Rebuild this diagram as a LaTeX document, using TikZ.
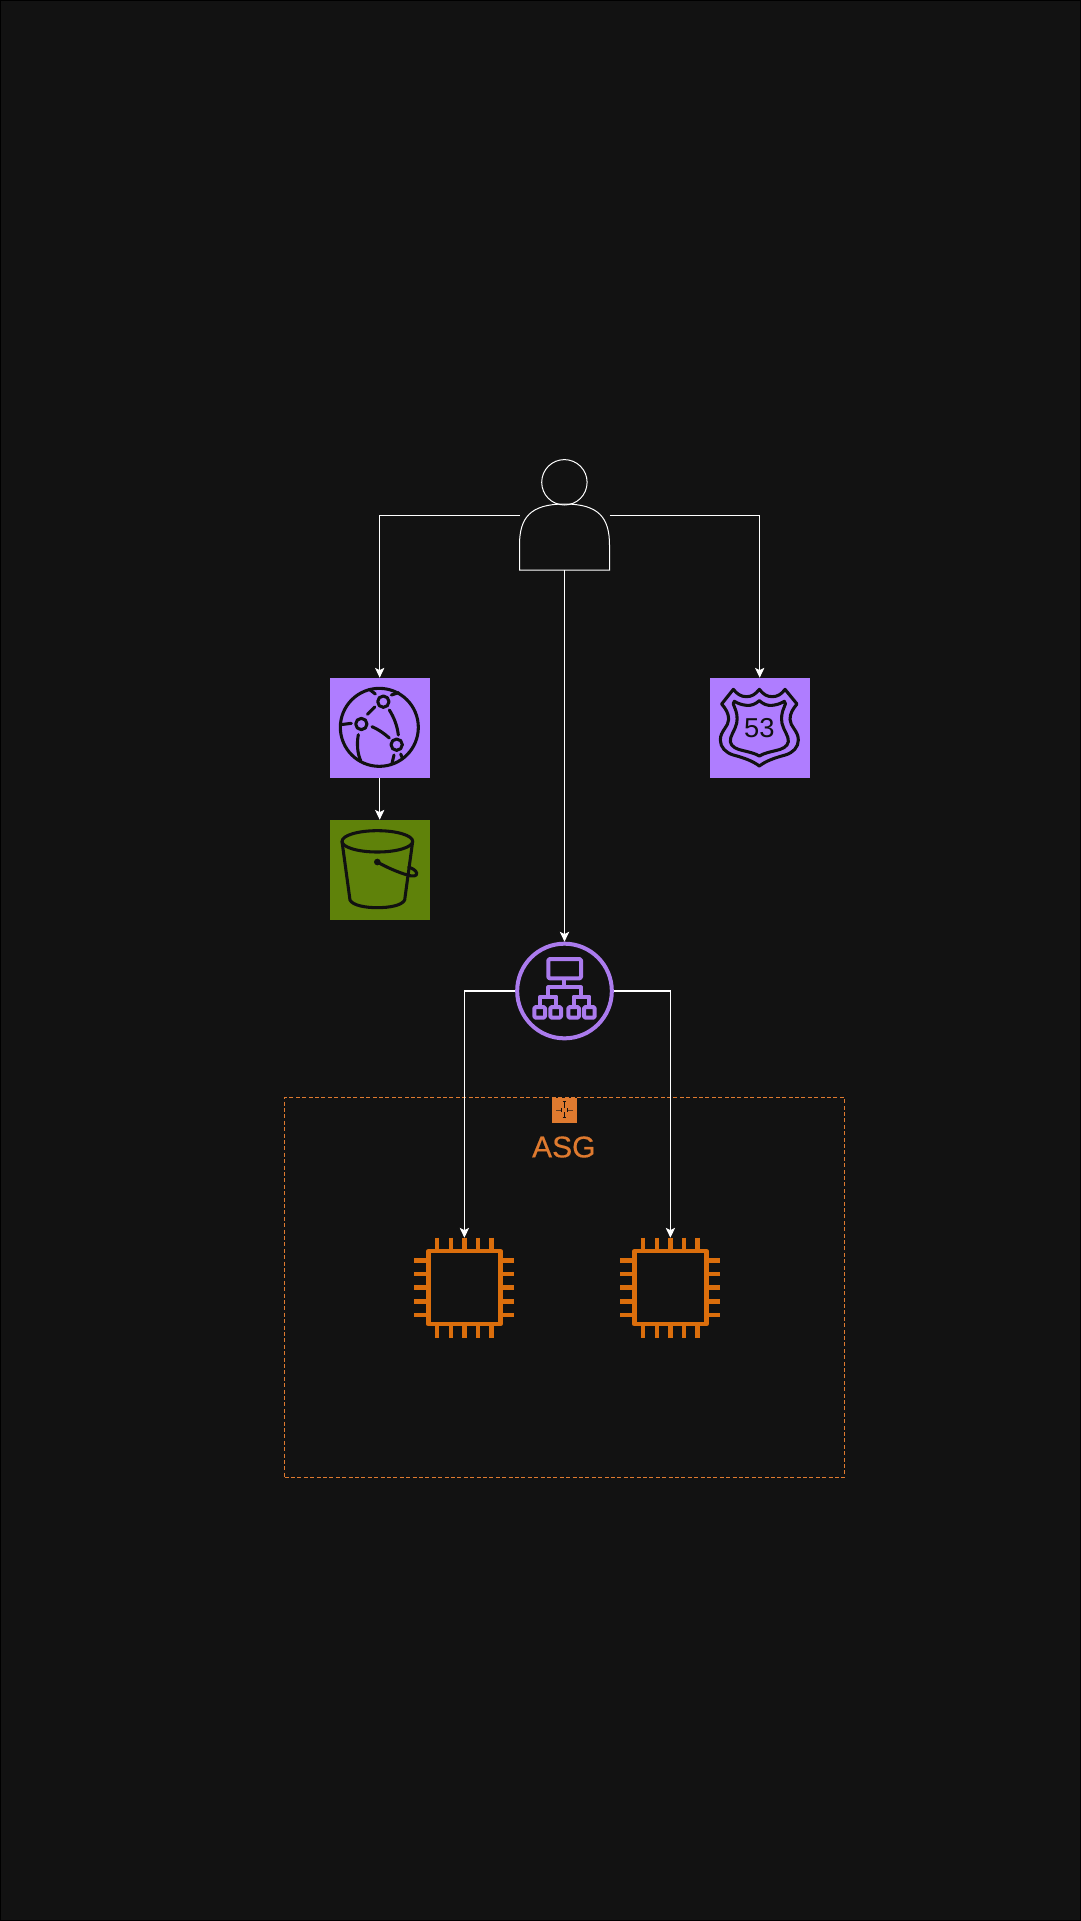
\documentclass[tikz,border=0pt]{standalone}
\usepackage{fontspec}
\setmainfont{Liberation Sans}
\newfontfamily\asgfont[FakeBold=0.35]{Liberation Sans}
\usetikzlibrary{arrows.meta}
\definecolor{bgc}{HTML}{121212}
\definecolor{purp}{HTML}{AF7DFF}
\definecolor{albp}{HTML}{AB7BEE}
\definecolor{s3g}{HTML}{5F820A}
\definecolor{ec2o}{HTML}{DB6E0C}
\definecolor{asgo}{HTML}{DF7A2F}
\definecolor{ink}{HTML}{111111}
\tikzset{
  conn/.style={draw=white,line width=0.8pt,-{Stealth[length=7.4pt,width=7pt,inset=1.7pt]}},
  iconbox/.style={rectangle,inner sep=0pt,outer sep=0pt,minimum size=75pt},
  chipnode/.style={rectangle,inner sep=0pt,outer sep=0pt,minimum size=75pt},
  ink line/.style={draw=ink,line width=2.3pt,line cap=round,line join=round},
  thinline/.style={draw=white,line width=0.75pt},
  albline/.style={draw=albp,line width=3pt,line join=round},
  pin/.style={draw=ec2o,line width=3.4pt},
  crop/.style={x=0.25pt,y=-0.25pt},
}
\newcommand{\chipicon}[1]{%
  \begin{scope}[shift={(#1)},x=0.75pt,y=-0.75pt]
    \draw[draw=ec2o,line width=3.4pt,line join=round] (-36,-36.5) rectangle (36,36.5);
    \foreach \d in {-27.2,-13.6,0,13.6,27.2}{
      \draw[pin] (\d,-50) -- (\d,-38);
      \draw[pin] (\d,38) -- (\d,50);
      \draw[pin] (-50,\d) -- (-38,\d);
      \draw[pin] (38,\d) -- (50,\d);
    }
  \end{scope}}
\begin{document}
\begin{tikzpicture}[x=0.75pt,y=-0.75pt]
\useasboundingbox (0,0) rectangle (1081,1921);
\fill[bgc] (0,0) rectangle (1081,1921);
\draw[black,line width=0.75pt] (0.5,0.5) rectangle (1080.5,1920.5);

% group
\node[rectangle,draw=asgo,line width=0.75pt,dash pattern=on 3pt off 1.8pt,inner sep=0pt,outer sep=0pt,minimum width=420pt,minimum height=285pt] (asg) at (564.5,1287.5) {};
\node[rectangle,fill=asgo,inner sep=0pt,outer sep=0pt,minimum size=18.75pt] (asgicon) at (564.5,1110) {};
\node[text=asgo,inner sep=0pt,font=\asgfont\fontsize{22.5pt}{24pt}\selectfont] (asglabel) at (563.8,1147) {ASG};
\begin{scope}[shift={(510,1085)},crop,draw=ink,line width=0.55pt]
  \draw[draw=ink] (163,48) -- (163,68);
  \draw[draw=ink] (158,50) -- (168,50);
  \draw[draw=ink] (163,82) -- (163,100);
  \draw[draw=ink] (158,98) -- (168,98);
  \draw[draw=ink!60!asgo] (138,75) -- (155,75);
  \draw[draw=ink] (154,69) -- (154,81);
  \draw[draw=ink!60!asgo] (172,75) -- (190,75);
  \draw[draw=ink] (172,69) -- (172,81);
\end{scope}

% user
\node[rectangle,inner sep=0pt,outer sep=0pt,minimum width=67.5pt,minimum height=82pt] (user) at (564.5,515.5) {};
\draw[thinline] (564.4,482.3) circle (22.7);
\draw[thinline] (519.5,570) -- (519.5,545) .. controls (519.5,518) and (530,504) .. (564.5,504)
  .. controls (599,504) and (609.5,518) .. (609.5,545) -- (609.5,570) -- cycle;

% cloudfront
\node[iconbox,fill=purp] (cf) at (379.7,727.7) {};
\begin{scope}[shift={(310,660)},crop]
  \draw[ink line] (208,202) circle (117);
  \draw[ink line] (220,125) circle (17);
  \draw[ink line] (154,192) circle (17);
  \draw[ink line] (260,254) circle (17);
  \draw[ink line] (172,163) -- (194,141);
  \draw[ink line] (186,200) .. controls (205,208) and (222,220) .. (238,234);
  \draw[ink line] (238,150) .. controls (252,172) and (262,198) .. (265,225);
  \draw[ink line] (145,224) .. controls (140,250) and (142,280) .. (152,302);
  \draw[ink line] (92,194) -- (124,190);
  \draw[ink line] (178,88) -- (196,102);
  \draw[ink line] (244,105) -- (266,98);
  \draw[ink line] (246,310) -- (252,285);
  \draw[ink line] (272,282) -- (278,296);
\end{scope}

% s3
\node[iconbox,fill=s3g] (s3) at (379.7,869.7) {};
\begin{scope}[shift={(310,800)},crop]
  \draw[ink line] (202,124) ellipse (106 and 32);
  \draw[ink line] (96,124) -- (120,300) .. controls (128,316) and (165,323) .. (202,323)
     .. controls (240,323) and (276,316) .. (284,300) -- (308,124);
  \fill[ink] (202,186) circle (10);
  \draw[ink line] (202,186) .. controls (230,202) and (262,216) .. (292,225)
     .. controls (310,231) and (322,228) .. (320,219) .. controls (318,211) and (306,204) .. (296,202);
\end{scope}

% route 53
\node[iconbox,fill=purp] (rte) at (759.7,727.7) {};
\begin{scope}[shift={(695,660)},crop]
  \draw[ink line] (193,88) .. controls (180,104) and (170,110) .. (154,110) .. controls (138,110) and (126,102) .. (115,88)
    -- (80,132) .. controls (92,146) and (101,160) .. (101,178) .. controls (101,200) and (76,212) .. (76,240)
    .. controls (76,262) and (92,278) .. (115,285) .. controls (145,293) and (172,302) .. (193,318)
    .. controls (214,302) and (241,293) .. (271,285) .. controls (294,278) and (310,262) .. (310,240)
    .. controls (310,212) and (285,200) .. (285,178) .. controls (285,160) and (294,146) .. (306,132)
    -- (270,88) .. controls (260,102) and (248,110) .. (232,110) .. controls (216,110) and (206,104) .. (193,88) -- cycle;
  \draw[ink line] (193,122) .. controls (180,133) and (170,137) .. (155,136) .. controls (142,135) and (130,131) .. (118,124)
    .. controls (112,128) and (115,134) .. (118,140) .. controls (126,158) and (128,172) .. (125,190)
    .. controls (120,212) and (104,228) .. (106,245) .. controls (108,260) and (125,268) .. (145,272)
    .. controls (162,276) and (180,280) .. (193,288)
    .. controls (206,280) and (224,276) .. (241,272) .. controls (261,268) and (278,260) .. (280,245)
    .. controls (282,228) and (266,212) .. (261,190) .. controls (258,172) and (260,158) .. (268,140)
    .. controls (271,134) and (274,128) .. (268,124) .. controls (256,131) and (244,135) .. (231,136)
    .. controls (216,137) and (206,133) .. (193,122) -- cycle;
  \node[text=ink,inner sep=0pt,font=\fontsize{20.5pt}{21pt}\selectfont] (rtenum) at (193,205) {53};
\end{scope}

% alb
\node[circle,draw=albp,line width=3pt,inner sep=0pt,minimum size=71pt] (alb) at (564.5,991) {};
\begin{scope}[shift={(500,930)},crop]
  \draw[albline,rounded corners=1pt] (145,87) rectangle (243,145);
  \draw[albline] (193,145) -- (193,172);
  \draw[albline] (145,200) -- (145,172) -- (243,172) -- (243,200);
  \draw[albline] (121,230) -- (121,200) -- (169,200) -- (169,230);
  \draw[albline] (221,230) -- (221,200) -- (268,200) -- (268,230);
  \foreach \c in {119,167,221,268}{
    \draw[albline,rounded corners=1pt] (\c-16,231) rectangle (\c+16,263);
  }
\end{scope}

% ec2
\node[chipnode] (ecA) at (464.4,1287.7) {};
\node[chipnode] (ecB) at (670.4,1287.7) {};
\chipicon{464.4,1287.7}
\chipicon{670.4,1287.7}

% connectors
\draw[conn] (user.west) -| (cf.north);
\draw[conn] (user.east) -| (rte.north);
\draw[conn] (user.south) -- (alb.north);
\draw[conn] (cf.south) -- (s3.north);
\draw[conn] (alb.west) -| (ecA.north);
\draw[conn] (alb.east) -| (ecB.north);
\end{tikzpicture}
\end{document}
